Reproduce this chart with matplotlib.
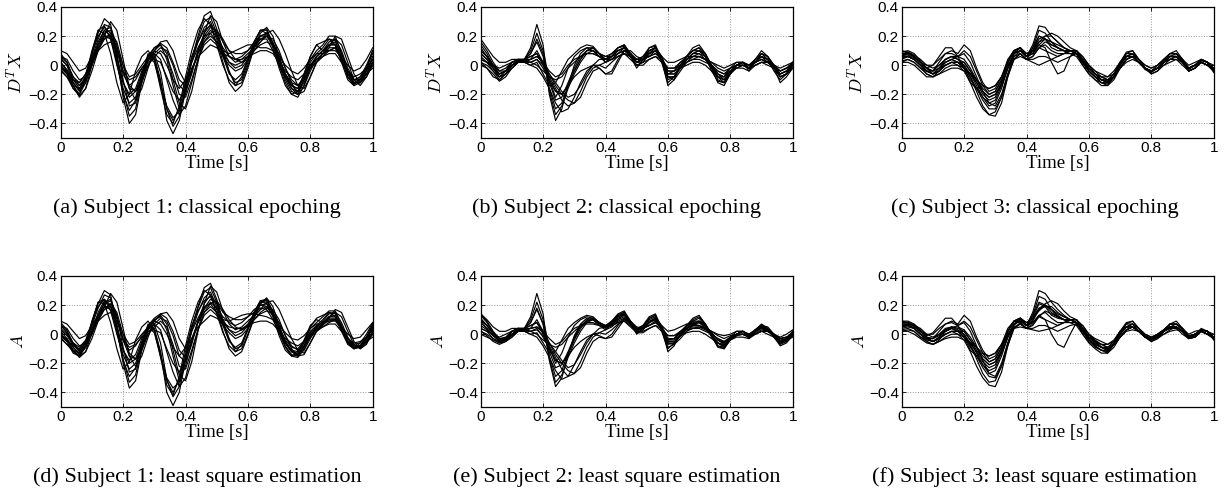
import numpy as np
import matplotlib
matplotlib.use("Agg")
import matplotlib.pyplot as plt

plt.rcParams['mathtext.fontset'] = 'cm'

# time grid, 0..1 s every 20 ms
t = np.linspace(0, 1, 51)

# values, in units of 0.01
subj1_epoch = [
    [5, 0, -12, -18, -10, 5, 18, 28, 26, 8, -18, -35, -30, -10, 5, 8, -5, -30, -42, -35, -15, 5, 18, 30, 33, 22, 8, -5, -12, -10, 2, 15, 24, 25, 15, 2, -10, -18, -20, -10, 2, 8, 12, 18, 17, 5, -8, -13, -10, -2, 8],
    [8, 2, -10, -16, -8, 8, 22, 32, 28, 6, -22, -40, -34, -12, 3, 6, -10, -38, -47, -38, -18, 4, 20, 34, 37, 25, 10, -4, -14, -12, 0, 12, 20, 22, 14, 4, -6, -14, -16, -8, 4, 10, 14, 20, 20, 8, -6, -12, -10, -2, 10],
    [2, -3, -10, -14, -8, 4, 14, 22, 24, 12, -6, -14, -10, -2, 4, 10, 16, 17, 10, -4, -12, -4, 8, 18, 24, 20, 12, 6, 4, 6, 10, 16, 20, 20, 14, 4, -6, -12, -14, -8, 0, 6, 10, 14, 14, 6, -4, -10, -8, -2, 4],
    [0, -5, -14, -20, -12, 8, 24, 27, 18, 0, -16, -26, -22, -8, 6, 12, 14, 4, -14, -30, -20, -4, 10, 20, 26, 24, 16, 10, 8, 8, 10, 14, 18, 18, 10, 0, -8, -14, -16, -6, 6, 14, 10, 10, 12, 4, -6, -12, -10, -4, 2],
    [-2, -6, -10, -12, -6, 4, 10, 14, 16, 10, -4, -10, -8, -2, 2, 4, 2, -8, -18, -24, -16, -2, 6, 10, 14, 12, 8, 6, 4, 4, 6, 8, 10, 10, 8, 2, -4, -8, -10, -6, 0, 4, 6, 8, 8, 2, -4, -8, -6, -2, 0],
    [6, 2, -8, -14, -10, 2, 14, 24, 26, 14, -10, -28, -26, -8, 8, 4, -12, -30, -38, -30, -12, 6, 16, 24, 27, 18, 2, -12, -18, -14, -2, 12, 22, 26, 20, 6, -8, -16, -18, -10, 0, 4, 8, 14, 16, 8, -4, -12, -12, -4, 6],
    [4, 0, -8, -12, -6, 8, 20, 26, 22, 6, -12, -20, -16, -4, 4, 8, 12, 10, 0, -14, -18, -6, 10, 22, 28, 22, 10, 2, 0, 2, 6, 14, 20, 22, 16, 6, -6, -14, -18, -12, -2, 6, 10, 16, 18, 10, -2, -10, -10, -4, 4],
    [-4, -8, -16, -21, -16, -4, 10, 18, 22, 16, 0, -14, -18, -12, 0, 8, 4, -10, -24, -34, -28, -12, 4, 16, 22, 24, 18, 10, 4, 2, 4, 10, 16, 20, 18, 10, -2, -12, -20, -18, -8, 2, 8, 14, 18, 14, 2, -10, -14, -8, 0],
    [10, 8, 2, -4, -2, 6, 14, 20, 20, 12, 0, -8, -6, 0, 6, 10, 8, 0, -10, -16, -10, 2, 12, 20, 22, 16, 10, 8, 10, 12, 14, 14, 12, 12, 10, 6, 0, -4, -6, -2, 4, 8, 8, 10, 10, 6, 0, -4, -2, 4, 12],
    [2, -4, -14, -22, -16, 0, 16, 24, 20, 2, -20, -31, -24, -6, 6, 2, -14, -28, -36, -32, -16, 2, 16, 26, 30, 20, 6, -6, -10, -6, 4, 16, 24, 24, 14, 0, -12, -20, -22, -14, -2, 6, 10, 14, 14, 4, -8, -14, -12, -6, 2],
    [0, -6, -16, -20, -8, 10, 24, 22, 8, -12, -26, -20, -4, 6, 10, 4, -16, -34, -40, -28, -8, 10, 24, 32, 28, 14, 0, -10, -14, -8, 4, 16, 24, 22, 12, -2, -14, -20, -18, -6, 6, 14, 16, 18, 14, 2, -10, -14, -8, 0, 10],
    [-3, -8, -14, -16, -10, 2, 12, 18, 20, 12, -4, -16, -18, -10, 0, 6, 10, 6, -6, -20, -22, -10, 4, 14, 18, 14, 6, 0, -4, -2, 4, 10, 14, 16, 14, 8, -2, -10, -14, -10, -2, 2, 6, 10, 12, 6, -4, -10, -10, -6, -2],
    [6, 4, -4, -10, -8, 0, 10, 20, 30, 24, 4, -16, -24, -16, -2, 10, 14, 8, -10, -26, -30, -18, 2, 22, 34, 30, 16, 6, 2, 4, 8, 12, 16, 22, 24, 18, 8, -4, -14, -16, -8, 2, 6, 12, 20, 18, 6, -6, -12, -8, 2],
    [-1, -4, -12, -17, -12, 0, 12, 20, 18, 4, -12, -22, -18, -6, 6, 12, 15, 12, 2, -10, -14, -4, 8, 16, 20, 16, 8, 2, -2, 0, 6, 12, 18, 20, 14, 4, -8, -16, -20, -14, -4, 4, 8, 12, 12, 4, -6, -12, -12, -6, 0],
]

subj2_epoch = [
    [12, 6, -2, -8, -4, 2, 3, 4, 12, 28, 14, -20, -38, -30, -14, 0, 8, 12, 10, 6, 2, 6, 12, 13, 6, -2, 4, 12, 13, 2, -12, -8, 0, 6, 10, 12, 6, -4, -11, -12, -5, 0, 2, -2, 4, 8, 4, -4, -10, -6, 0],
    [4, 2, -4, -10, -6, 0, 4, 3, 2, 4, 0, -8, -16, -24, -28, -26, -18, -8, -2, 0, 2, 4, 8, 10, 6, 2, 4, 8, 10, 4, -6, -4, 0, 4, 6, 6, 4, 0, -6, -10, -6, -2, 0, -2, 2, 6, 4, 0, -6, -4, 0],
    [16, 10, 2, -4, -2, 2, 4, 2, 0, 2, -6, -14, -12, -4, 4, 8, 12, 14, 13, 8, 4, 8, 12, 14, 8, 2, 6, 12, 14, 4, -14, -10, 0, 6, 12, 14, 8, -2, -12, -14, -6, 0, 2, -4, 4, 10, 6, -2, -12, -8, -2],
    [8, 4, -2, -8, -6, 0, 3, 2, 4, 10, 2, -12, -24, -22, -12, -2, 6, 10, 10, 6, 4, 6, 10, 12, 8, 2, 4, 10, 12, 6, -8, -8, -2, 4, 8, 8, 4, -2, -8, -10, -4, 0, 2, 0, 4, 6, 2, -2, -8, -6, 2],
    [0, -2, -6, -11, -8, -2, 2, 2, 0, -2, -8, -16, -26, -32, -30, -22, -12, -4, 0, -2, -6, -4, 4, 10, 8, 4, 4, 6, 8, 4, -2, -2, 0, 2, 4, 4, 2, 0, -4, -6, -4, -2, 0, -2, 0, 2, 2, 0, -4, -2, 0],
    [10, 6, 0, -6, -4, 2, 4, 4, 8, 16, 6, -16, -30, -26, -14, -4, 4, 10, 12, 8, 4, 6, 10, 12, 6, 0, 2, 8, 10, 4, -6, -6, -2, 4, 8, 10, 6, -2, -8, -10, -4, 0, 0, -2, 2, 6, 4, -2, -6, -4, 2],
    [18, 12, 6, 2, 2, 4, 4, 3, 2, 0, -4, -8, -10, -8, -2, 2, 6, 8, 8, 6, 4, 4, 6, 8, 6, 4, 4, 6, 8, 6, 2, 2, 4, 6, 6, 6, 4, 2, 0, -2, 0, 2, 2, 0, 2, 4, 2, 0, -2, 0, 2],
    [6, 2, -2, -6, -4, 0, 2, 4, 6, 8, 2, -6, -12, -18, -22, -20, -14, -6, 0, 4, 4, 6, 8, 10, 8, 4, 6, 10, 12, 6, -4, -4, 2, 6, 10, 10, 6, 0, -6, -8, -2, 2, 2, -2, 2, 6, 4, -2, -8, -6, -2],
    [14, 8, 0, -6, -4, 2, 4, 4, 10, 22, 10, -10, -22, -14, -2, 6, 10, 12, 12, 8, 2, 4, 8, 12, 8, 2, 4, 10, 12, 4, -10, -8, 0, 6, 10, 12, 8, 0, -10, -12, -4, 0, 2, -2, 2, 8, 6, 0, -8, -6, 0],
    [2, -2, -8, -10, -6, -2, 2, 2, 2, 4, -2, -10, -18, -20, -14, -8, -4, -2, 0, 0, -2, 2, 6, 8, 4, 0, 0, 4, 6, 2, -4, -4, -2, 0, 2, 2, 0, -4, -8, -8, -4, -2, -2, -4, 0, 2, 0, -2, -6, -4, -2],
    [10, 6, 0, -4, -4, 0, 3, 4, 6, 8, 0, -10, -18, -20, -14, -4, 4, 10, 12, 8, 6, 8, 12, 14, 8, 2, 4, 8, 12, 6, -8, -10, -4, 2, 6, 8, 6, 0, -6, -8, -4, 0, 2, -2, 2, 4, 2, -2, -6, -4, 0],
    [2, 0, -4, -8, -6, -2, 2, 3, 4, 6, 2, -6, -14, -20, -24, -26, -22, -12, -4, -2, -6, -6, 2, 10, 10, 6, 4, 6, 10, 4, -6, -6, -2, 2, 4, 6, 4, 0, -4, -6, -2, 0, 0, -2, 2, 4, 2, -2, -4, -2, 2],
    [8, 4, -2, -6, -4, 0, 2, 4, 8, 18, 8, -18, -34, -28, -16, -6, 2, 8, 10, 8, 6, 6, 10, 12, 6, 0, 2, 8, 12, 4, -8, -8, -2, 4, 8, 10, 8, 0, -8, -12, -6, 0, 2, 0, 4, 8, 6, 0, -8, -6, 0],
    [4, 2, 0, -2, 0, 2, 4, 4, 4, 6, 2, -4, -8, -6, 0, 4, 6, 8, 8, 6, 4, 4, 6, 8, 6, 2, 2, 4, 6, 4, -2, -2, 2, 4, 6, 6, 4, 2, -2, -4, -2, 0, 0, -2, 0, 2, 2, 0, -4, -2, 0],
]

subj3_epoch = [
    [8, 9, 6, 2, -4, -6, -2, 4, 6, 4, 0, -8, -18, -28, -34, -32, -22, -6, 8, 12, 6, 12, 24, 22, 16, 12, 10, 10, 8, 2, -4, -8, -12, -13, -8, 2, 8, 8, 2, -3, -5, -2, 4, 8, 8, 3, -3, 0, 4, 2, -4],
    [4, 6, 4, 0, -4, -4, 2, 8, 10, 8, 14, 10, -2, -12, -18, -16, -8, 4, 10, 8, 4, 10, 18, 20, 20, 16, 12, 10, 8, 2, -2, -6, -10, -10, -6, 2, 6, 6, 2, -2, -4, 0, 4, 6, 6, 2, -2, 0, 3, 2, -2],
    [6, 6, 4, 0, -6, -8, -4, 2, 4, 2, -2, -6, -12, -20, -24, -22, -12, 2, 10, 12, 6, 8, 14, 12, 2, -6, -4, 6, 10, 6, 0, -6, -10, -12, -8, 0, 6, 8, 4, -2, -4, -2, 2, 6, 6, 2, -4, -2, 2, 0, -3],
    [9, 10, 8, 3, -2, -6, -4, 0, 2, 0, -4, -12, -22, -30, -34, -35, -26, -8, 6, 10, 6, 14, 27, 26, 20, 16, 12, 10, 8, 0, -6, -10, -14, -14, -8, 2, 9, 10, 4, -2, -6, -4, 2, 8, 10, 4, -4, -2, 4, 2, -5],
    [2, 4, 2, -2, -6, -8, -6, -4, -2, -2, -4, -6, -10, -14, -16, -14, -8, 0, 4, 6, 4, 4, 6, 6, 4, 2, 4, 6, 8, 4, 0, -4, -6, -8, -6, -2, 2, 4, 2, -2, -4, -2, 0, 2, 4, 2, -2, 0, 2, 0, -2],
    [6, 8, 6, 2, -2, 0, 6, 12, 12, 6, -2, -10, -16, -22, -28, -26, -16, -2, 8, 12, 8, 10, 16, 18, 16, 14, 12, 10, 8, 2, -4, -8, -10, -11, -6, 2, 6, 6, 2, -2, -4, -2, 2, 6, 8, 4, -2, 0, 4, 2, -3],
    [7, 8, 6, 2, -2, -4, 0, 4, 6, 4, 2, -4, -10, -16, -20, -18, -10, 2, 10, 12, 6, 8, 16, 20, 22, 20, 16, 12, 10, 4, -2, -6, -8, -8, -4, 2, 6, 6, 2, -2, -4, -2, 2, 6, 6, 2, -2, 0, 2, 0, -4],
    [3, 4, 2, -2, -4, -6, -4, 0, 2, 2, 0, -6, -14, -22, -26, -24, -14, -2, 6, 8, 4, 2, 0, 2, 4, 6, 8, 10, 10, 4, -2, -6, -10, -12, -8, -2, 4, 6, 2, -2, -6, -4, 0, 4, 6, 2, -4, -2, 2, 0, -4],
    [10, 9, 7, 4, 0, -2, 0, 4, 6, 6, 4, -2, -10, -18, -22, -20, -12, 0, 8, 10, 6, 10, 20, 18, 12, 10, 10, 10, 10, 6, 0, -4, -8, -10, -8, 0, 8, 10, 4, 0, -2, 0, 4, 8, 8, 4, -2, 0, 4, 2, -2],
    [5, 6, 4, 0, -4, -6, -2, 2, 4, 6, 8, 2, -8, -18, -26, -28, -20, -6, 4, 8, 4, 6, 12, 14, 10, 8, 8, 8, 8, 2, -4, -8, -12, -14, -10, -2, 4, 6, 2, -2, -4, -2, 2, 4, 4, 0, -4, -2, 2, 0, -2],
    [2, 2, 0, -4, -8, -8, -6, -2, 0, 0, -2, -8, -16, -24, -30, -30, -22, -8, 4, 8, 4, 6, 12, 16, 14, 12, 10, 8, 6, 0, -6, -10, -12, -12, -8, -2, 4, 6, 2, -2, -4, -2, 2, 4, 6, 2, -4, -2, 2, 0, -4],
    [8, 8, 6, 2, 0, 0, 4, 8, 8, 6, 10, 6, -4, -14, -20, -18, -10, 2, 10, 12, 8, 10, 14, 18, 16, 12, 10, 10, 10, 4, -2, -6, -8, -10, -8, 0, 6, 8, 4, 0, -2, 0, 4, 8, 8, 4, 0, 2, 4, 2, 0],
    [5, 6, 4, 0, -4, -6, -4, 0, 2, 2, 2, -4, -12, -18, -22, -20, -14, -2, 8, 10, 6, 8, 12, 10, 8, 6, 8, 10, 10, 4, -2, -6, -10, -11, -8, -2, 4, 6, 2, -2, -4, -2, 2, 6, 6, 2, -2, 0, 2, 0, -2],
    [7, 7, 5, 2, -2, -4, -2, 2, 4, 2, -2, -12, -16, -14, -16, -14, -8, 2, 10, 12, 6, 12, 20, 18, 14, 12, 10, 10, 8, 2, -4, -8, -10, -12, -8, 0, 6, 8, 4, -2, -4, -2, 2, 6, 6, 2, -2, 0, 4, 2, -3],
]

subj1_lse = [
    [6, 1, -9, -14, -8, 6, 18, 27, 25, 7, -17, -33, -28, -9, 4, 7, -6, -31, -43, -36, -15, 5, 18, 29, 32, 22, 8, -4, -10, -8, 3, 15, 23, 24, 15, 3, -8, -14, -15, -8, 2, 6, 10, 15, 14, 4, -6, -10, -8, -2, 6],
    [8, 3, -7, -12, -6, 8, 21, 30, 27, 5, -20, -37, -32, -11, 2, 4, -12, -40, -49, -40, -18, 4, 19, 32, 35, 24, 9, -3, -12, -10, 0, 12, 21, 24, 16, 4, -6, -12, -13, -6, 4, 8, 12, 16, 16, 6, -5, -9, -8, -2, 7],
    [3, -1, -7, -11, -6, 4, 13, 21, 23, 12, -4, -11, -8, -1, 4, 9, 14, 15, 9, -3, -10, -3, 8, 17, 22, 18, 12, 8, 6, 8, 12, 17, 20, 19, 13, 4, -4, -9, -10, -5, 1, 5, 8, 11, 11, 4, -3, -7, -6, -2, 3],
    [0, -4, -11, -15, -9, 8, 22, 24, 16, 0, -14, -24, -20, -7, 5, 10, 12, 3, -15, -32, -22, -5, 9, 18, 24, 22, 15, 12, 10, 10, 12, 15, 18, 17, 10, 1, -6, -11, -12, -4, 6, 10, 8, 9, 10, 3, -5, -9, -8, -4, 1],
    [-1, -5, -8, -10, -5, 4, 9, 13, 15, 9, -3, -9, -7, -2, 2, 3, 1, -10, -20, -26, -17, -3, 5, 9, 13, 11, 8, 5, 4, 4, 6, 8, 9, 9, 7, 2, -3, -6, -8, -5, 0, 3, 5, 7, 7, 2, -3, -6, -5, -2, 0],
    [6, 2, -6, -11, -8, 2, 13, 22, 24, 13, -9, -26, -24, -7, 7, 3, -13, -32, -40, -31, -12, 6, 16, 23, 26, 17, 2, -10, -15, -12, -1, 11, 21, 25, 19, 6, -6, -12, -14, -8, 0, 3, 7, 12, 13, 6, -3, -9, -9, -3, 5],
    [4, 0, -6, -9, -4, 8, 19, 24, 20, 6, -11, -18, -14, -3, 3, 7, 11, 9, -1, -15, -19, -7, 9, 21, 27, 21, 10, 3, 1, 3, 7, 14, 20, 21, 15, 6, -5, -11, -14, -9, -1, 5, 9, 14, 15, 8, -2, -8, -8, -3, 4],
    [-3, -7, -12, -15, -12, -3, 9, 17, 21, 15, 0, -13, -17, -11, 0, 7, 3, -12, -26, -36, -30, -13, 3, 15, 21, 23, 17, 10, 5, 3, 5, 10, 15, 18, 17, 10, -1, -10, -15, -14, -6, 2, 7, 12, 15, 12, 2, -7, -10, -6, 0],
    [9, 7, 2, -3, -1, 6, 13, 19, 19, 11, 0, -7, -5, 0, 5, 9, 7, 0, -9, -15, -9, 2, 11, 19, 21, 15, 10, 9, 11, 13, 14, 14, 13, 12, 10, 6, 1, -3, -4, -1, 4, 7, 7, 9, 9, 5, 0, -3, -2, 3, 8],
    [2, -3, -11, -16, -12, 1, 15, 23, 19, 2, -18, -29, -23, -6, 5, 1, -15, -30, -37, -33, -16, 2, 15, 25, 29, 19, 6, -5, -9, -6, 4, 15, 22, 23, 14, 1, -9, -15, -16, -10, -1, 5, 8, 12, 12, 3, -6, -10, -9, -5, 2],
    [0, -5, -13, -15, -7, 9, 22, 21, 8, -10, -24, -19, -4, 5, 9, 3, -16, -35, -42, -29, -8, 9, 22, 30, 27, 14, 1, -8, -12, -7, 4, 15, 23, 21, 12, -1, -11, -15, -13, -5, 5, 11, 13, 15, 12, 2, -7, -10, -6, 0, 8],
    [-2, -7, -11, -13, -8, 2, 11, 17, 19, 11, -4, -15, -17, -9, 0, 5, 9, 5, -7, -22, -24, -11, 3, 13, 17, 13, 6, 1, -3, -1, 4, 10, 14, 16, 14, 8, -1, -8, -11, -8, -2, 2, 5, 8, 10, 5, -3, -8, -8, -5, -2],
    [6, 4, -3, -8, -6, 0, 10, 19, 28, 22, 4, -15, -22, -15, -2, 9, 13, 7, -11, -28, -32, -19, 2, 21, 33, 29, 16, 7, 3, 5, 9, 13, 17, 22, 23, 17, 7, -3, -11, -13, -6, 2, 6, 11, 17, 15, 5, -5, -10, -7, 2],
    [-1, -3, -9, -13, -9, 0, 11, 19, 17, 4, -11, -20, -17, -5, 6, 11, 14, 11, 2, -11, -16, -5, 8, 15, 19, 15, 8, 3, -1, 1, 6, 12, 17, 19, 13, 4, -6, -12, -15, -11, -3, 4, 7, 10, 10, 3, -5, -9, -9, -5, 0],
]

subj2_lse = [
    [11, 6, 0, -5, -3, 2, 3, 4, 12, 28, 14, -18, -36, -30, -14, -1, 7, 11, 10, 6, 3, 7, 13, 15, 8, 0, 4, 11, 13, 2, -10, -6, 0, 5, 9, 11, 6, -2, -8, -9, -4, 0, 2, -1, 3, 6, 3, -2, -7, -5, 0],
    [4, 2, -3, -6, -4, 0, 4, 3, 2, 3, -1, -8, -16, -24, -29, -27, -19, -9, -2, 1, 3, 5, 9, 11, 7, 3, 4, 8, 10, 4, -4, -3, 1, 4, 6, 6, 4, 1, -4, -7, -4, -1, 0, -2, 2, 5, 3, 0, -5, -3, 0],
    [14, 9, 2, -3, -2, 2, 4, 2, 0, 1, -6, -13, -12, -4, 4, 8, 11, 13, 12, 8, 5, 9, 14, 16, 9, 3, 6, 12, 14, 4, -12, -8, 1, 6, 11, 13, 7, -1, -9, -10, -4, 0, 2, -3, 3, 7, 4, -2, -8, -6, -1],
    [8, 4, -1, -5, -4, 0, 3, 2, 4, 10, 2, -12, -23, -21, -12, -2, 6, 9, 10, 7, 5, 7, 11, 13, 8, 2, 4, 9, 11, 5, -7, -6, -1, 4, 7, 8, 4, -1, -6, -8, -3, 0, 2, 0, 3, 5, 2, -1, -6, -4, 2],
    [0, -2, -4, -6, -5, -2, 2, 2, 0, -2, -8, -16, -25, -31, -29, -21, -12, -4, 0, -1, -3, 0, 6, 11, 8, 4, 4, 6, 8, 4, -1, -1, 1, 3, 4, 4, 2, 0, -3, -5, -3, -1, 0, -2, 0, 2, 2, 0, -3, -2, 0],
    [10, 6, 1, -4, -3, 2, 4, 4, 8, 18, 7, -15, -29, -25, -13, -3, 5, 10, 11, 8, 5, 8, 12, 14, 8, 1, 3, 8, 10, 4, -5, -5, -1, 4, 8, 9, 5, -1, -6, -8, -3, 0, 0, -2, 2, 5, 3, -1, -5, -3, 2],
    [14, 10, 5, 2, 2, 4, 4, 3, 2, 0, -4, -7, -9, -7, -2, 2, 6, 8, 8, 6, 5, 6, 8, 10, 7, 4, 4, 6, 8, 6, 2, 3, 5, 7, 7, 6, 4, 2, 0, -1, 0, 2, 2, 0, 2, 4, 2, 0, -2, 0, 3],
    [6, 3, -1, -4, -3, 0, 2, 4, 6, 8, 2, -6, -12, -18, -23, -21, -14, -6, 0, 4, 5, 7, 10, 12, 8, 4, 6, 10, 12, 6, -3, -3, 2, 6, 9, 9, 6, 1, -4, -6, -2, 2, 2, -2, 2, 5, 3, -1, -6, -4, -1],
    [13, 8, 1, -4, -3, 2, 4, 4, 10, 22, 10, -9, -20, -13, -2, 6, 10, 12, 11, 8, 4, 6, 10, 14, 9, 3, 5, 11, 13, 4, -9, -7, 0, 6, 10, 12, 7, 0, -8, -10, -3, 0, 2, -2, 2, 6, 5, 0, -6, -5, 0],
    [2, -1, -5, -7, -5, -2, 2, 2, 2, 4, -2, -10, -18, -20, -15, -9, -5, -2, 0, 1, 0, 3, 7, 9, 5, 1, 1, 4, 6, 2, -3, -3, -1, 1, 2, 2, 0, -3, -6, -7, -4, -2, -2, -3, 0, 2, 0, -2, -5, -4, -2],
    [9, 6, 1, -3, -3, 0, 3, 4, 6, 8, 0, -10, -18, -20, -14, -4, 4, 9, 11, 8, 6, 9, 13, 15, 9, 3, 4, 8, 11, 5, -6, -7, -3, 2, 6, 8, 6, 1, -4, -6, -3, 0, 2, -1, 2, 4, 2, -1, -4, -3, 0],
    [2, 0, -3, -5, -4, -1, 2, 3, 4, 5, 1, -6, -14, -20, -25, -27, -23, -13, -5, -2, -3, -2, 4, 10, 9, 5, 4, 6, 9, 4, -4, -4, -1, 2, 4, 5, 3, 0, -3, -5, -2, 0, 0, -2, 1, 3, 2, -1, -3, -2, 1],
    [8, 4, -1, -4, -3, 0, 2, 4, 8, 17, 7, -17, -33, -28, -16, -6, 2, 8, 10, 8, 6, 8, 12, 14, 8, 1, 3, 8, 11, 4, -6, -6, -1, 4, 7, 9, 7, 0, -6, -9, -4, 0, 2, 0, 3, 6, 4, 0, -6, -4, 0],
    [4, 2, 0, -2, 0, 2, 4, 4, 4, 5, 2, -3, -7, -5, 0, 4, 6, 7, 7, 6, 5, 6, 8, 9, 6, 2, 2, 4, 6, 4, -1, -1, 2, 4, 5, 5, 4, 2, -1, -3, -1, 0, 0, -1, 0, 2, 2, 0, -3, -2, 0],
]

subj3_lse = [
    [8, 8, 6, 2, -3, -5, -2, 3, 5, 3, 0, -7, -17, -27, -33, -32, -22, -6, 7, 11, 6, 13, 26, 24, 17, 13, 10, 10, 8, 2, -4, -8, -11, -12, -7, 2, 7, 7, 2, -2, -4, -2, 3, 7, 7, 3, -2, 0, 3, 2, -3],
    [4, 5, 4, 0, -3, -3, 2, 7, 9, 7, 13, 9, -2, -11, -17, -15, -7, 4, 9, 8, 4, 10, 17, 19, 19, 15, 12, 10, 8, 2, -2, -5, -9, -9, -5, 2, 5, 5, 2, -2, -3, 0, 3, 5, 5, 2, -2, 0, 3, 2, -2],
    [6, 6, 4, 0, -5, -7, -4, 2, 4, 2, -2, -6, -12, -19, -23, -21, -11, 2, 9, 11, 6, 8, 13, 10, 0, -7, -9, 0, 8, 6, 0, -5, -9, -11, -7, 0, 5, 7, 4, -1, -3, -1, 2, 5, 5, 2, -3, -1, 2, 0, -2],
    [9, 9, 7, 3, -2, -5, -3, 0, 2, 0, -4, -12, -22, -30, -35, -36, -26, -8, 6, 10, 6, 15, 30, 28, 22, 17, 13, 10, 8, 0, -6, -10, -13, -13, -7, 2, 8, 9, 4, -2, -5, -3, 2, 7, 9, 4, -3, -1, 4, 2, -4],
    [2, 3, 2, -2, -5, -7, -5, -3, -2, -2, -4, -6, -9, -13, -15, -13, -7, 0, 4, 5, 4, 4, 6, 6, 4, 2, 4, 6, 7, 4, 0, -3, -5, -7, -5, -2, 2, 3, 2, -1, -3, -1, 0, 2, 3, 2, -1, 0, 2, 0, -2],
    [6, 7, 6, 2, -1, 1, 6, 11, 11, 6, -1, -9, -15, -21, -27, -25, -15, -2, 7, 11, 8, 11, 18, 20, 17, 14, 12, 10, 8, 2, -4, -7, -9, -10, -6, 2, 5, 5, 2, -2, -3, -1, 2, 5, 7, 4, -1, 0, 3, 2, -2],
    [7, 7, 6, 2, -2, -3, 0, 4, 5, 4, 2, -4, -9, -15, -19, -17, -9, 2, 9, 11, 6, 9, 17, 21, 23, 21, 16, 12, 10, 4, -2, -5, -7, -7, -4, 2, 5, 5, 2, -2, -3, -1, 2, 5, 5, 2, -2, 0, 2, 0, -3],
    [3, 4, 2, -2, -4, -5, -3, 0, 2, 2, 0, -6, -13, -21, -25, -23, -13, -2, 5, 7, 4, 3, 2, 3, 4, 6, 8, 10, 10, 4, -2, -6, -9, -11, -7, -2, 3, 5, 2, -2, -5, -3, 0, 3, 5, 2, -3, -2, 2, 0, -3],
    [9, 8, 6, 4, 0, -2, 0, 3, 5, 5, 3, -2, -9, -17, -21, -19, -11, 0, 7, 9, 6, 11, 21, 19, 13, 11, 10, 10, 10, 6, 0, -4, -7, -9, -7, 0, 7, 9, 4, 0, -2, 0, 3, 7, 7, 4, -2, 0, 3, 2, -2],
    [5, 6, 4, 0, -3, -5, -2, 2, 4, 6, 8, 2, -8, -18, -27, -29, -20, -6, 4, 7, 4, 7, 13, 15, 11, 8, 8, 8, 8, 2, -4, -8, -11, -13, -9, -2, 3, 5, 2, -2, -4, -2, 2, 4, 4, 0, -3, -2, 2, 0, -2],
    [2, 2, 0, -3, -6, -7, -5, -2, 0, 0, -2, -8, -15, -23, -29, -30, -22, -8, 4, 8, 4, 6, 12, 16, 14, 12, 10, 8, 6, 0, -5, -9, -11, -11, -7, -2, 3, 5, 2, -2, -3, -2, 2, 4, 5, 2, -3, -2, 2, 0, -3],
    [8, 8, 6, 2, 0, 0, 4, 7, 8, 6, 9, 5, -4, -13, -19, -17, -9, 2, 9, 11, 8, 11, 16, 20, 17, 12, 10, 10, 10, 4, -2, -5, -7, -9, -7, 0, 5, 7, 4, 0, -2, 0, 3, 7, 7, 4, 0, 2, 3, 2, 0],
    [5, 6, 4, 0, -3, -5, -3, 0, 2, 2, 2, -4, -11, -17, -21, -19, -13, -2, 7, 9, 6, 8, 12, 10, 8, 6, 8, 10, 10, 4, -2, -5, -9, -10, -7, -2, 3, 5, 2, -2, -3, -2, 2, 5, 5, 2, -2, 0, 2, 0, -2],
    [7, 7, 5, 2, -2, -3, -1, 2, 4, 2, -2, -11, -15, -13, -15, -13, -7, 2, 9, 11, 6, 13, 22, 20, 15, 12, 10, 10, 8, 2, -3, -7, -9, -11, -7, 0, 5, 7, 4, -2, -3, -2, 2, 5, 5, 2, -2, 0, 3, 2, -3],
]

panels = [subj1_epoch, subj2_epoch, subj3_epoch, subj1_lse, subj2_lse, subj3_lse]
ylabels = [r'$D^T X$'] * 3 + [r'$A$'] * 3
captions = ['(a) Subject 1: classical epoching',
            '(b) Subject 2: classical epoching',
            '(c) Subject 3: classical epoching',
            '(d) Subject 1: least square estimation',
            '(e) Subject 2: least square estimation',
            '(f) Subject 3: least square estimation']

xticks = [0, 0.2, 0.4, 0.6, 0.8, 1]
xticklabels = ['0', '0.2', '0.4', '0.6', '0.8', '1']
yticks = [-0.4, -0.2, 0, 0.2, 0.4]
yticklabels = ['\u22120.4', '\u22120.2', '0', '0.2', '0.4']

W, H = 1225, 500
fig = plt.figure(figsize=(W / 100, H / 100), dpi=100)

lefts = [60.7, 480.7, 901.7]
tops = [7, 276]
caption_x = [197, 617, 1035]
caption_y = [208, 477]

for k, traces in enumerate(panels):
    row, col = divmod(k, 3)
    ax = fig.add_axes([lefts[col] / W, 1 - (tops[row] + 131) / H, 312 / W, 131 / H])
    for tr in traces:
        ax.plot(t, np.array(tr) / 100, color='black', linewidth=0.85)
    ax.set_xlim(0, 1)
    ax.set_ylim(-0.5, 0.4)
    ax.set_xticks(xticks)
    ax.set_xticklabels(xticklabels, family='Liberation Sans', fontsize=11)
    ax.set_yticks(yticks)
    ax.set_yticklabels(yticklabels, family='Liberation Sans', fontsize=11)
    ax.tick_params(direction='in', top=True, right=True, length=3, pad=2, width=0.6)
    ax.grid(True, color='#999999', linestyle=':', linewidth=0.7)
    for s in ax.spines.values():
        s.set_linewidth(0.9)
    ax.set_xlabel('Time [s]', family='Liberation Serif', fontsize=13.5, labelpad=0)
    ax.set_ylabel(ylabels[k], fontsize=13, labelpad=1)
    fig.text(caption_x[col] / W, 1 - caption_y[row] / H, captions[k],
             family='Liberation Serif', fontsize=16, ha='center', va='center')

fig.savefig('out.png', dpi=100)
